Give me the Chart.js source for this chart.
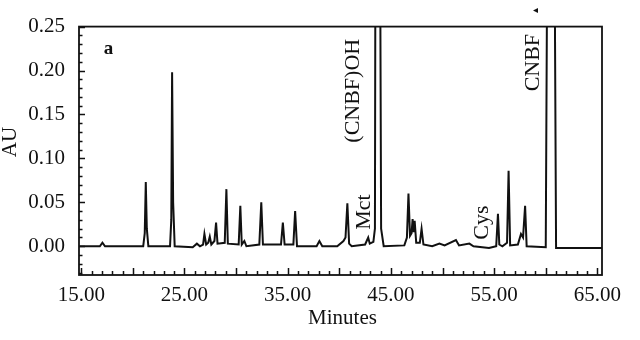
<!DOCTYPE html>
<html>
<head>
<meta charset="utf-8">
<script src="https://cdn.jsdelivr.net/npm/chart.js@4"></script>
<style>
  html, body { margin: 0; padding: 0; background: #fff; }
  #wrap { width: 640px; height: 340px; position: relative; }
</style>
</head>
<body>
<div id="wrap"><canvas id="chrom"></canvas></div>
<script>
// Chromatogram trace (minutes, AU)
const minutes = [
  14.8, 16.8, 17.05, 17.3,
  21.0, 21.15, 21.25, 21.35, 21.5,
  23.6, 23.72, 23.8, 23.9, 24.05,
  25.8, 26.2, 26.5, 26.8, 26.93, 27.1, 27.3, 27.45, 27.6, 27.9, 28.06, 28.2,
  28.9, 29.06, 29.2, 30.25, 30.41, 30.55, 30.8, 31.0,
  32.25, 32.44, 32.6, 34.35, 34.53, 34.7, 35.55, 35.72, 35.9,
  37.8, 38.07, 38.35, 39.8, 40.4, 40.6, 40.78, 40.95, 41.2,
  42.5, 42.8, 42.95, 43.3, 43.45, 43.5, 43.95, 44.05, 44.3,
  46.3, 46.55, 46.7, 46.85, 47.0, 47.1, 47.2, 47.3, 47.45, 47.8, 47.97, 48.15,
  49.0, 49.7, 50.2, 51.3, 51.6, 52.6, 53.0, 54.5,
  55.2, 55.37, 55.5, 55.8, 56.25, 56.4, 56.55,
  57.3, 57.6, 57.8, 58.0, 58.15,
  60.0, 60.15, 60.85, 61.0, 65.5
];
const absorbance = [
  0.000, 0.000, 0.004, 0.000,
  0.000, 0.015, 0.073, 0.020, 0.000,
  0.000, 0.030, 0.198, 0.050, 0.000,
  -0.001, 0.003, 0.000, 0.002, 0.014, 0.002, 0.004, 0.011, 0.002, 0.006, 0.027, 0.003,
  0.004, 0.065, 0.003, 0.002, 0.046, 0.002, 0.006, 0.000,
  0.002, 0.050, 0.002, 0.002, 0.027, 0.002, 0.002, 0.040, 0.000,
  0.000, 0.006, 0.000, 0.000, 0.006, 0.010, 0.049, 0.003, 0.000,
  0.002, 0.010, 0.003, 0.005, 0.020, 0.350, 0.350, 0.020, 0.000,
  0.001, 0.010, 0.060, 0.012, 0.015, 0.031, 0.016, 0.029, 0.004, 0.004, 0.020, 0.002,
  0.000, 0.003, 0.001, 0.007, 0.001, 0.003, 0.000, -0.002,
  0.000, 0.037, 0.002, 0.000, 0.004, 0.086, 0.001,
  0.002, 0.014, 0.010, 0.046, 0.000,
  -0.001, 0.350, 0.350, -0.002, -0.002
];

const xTickValues = [15, 25, 35, 45, 55, 65];
const yTickValues = [0, 0.05, 0.10, 0.15, 0.20, 0.25];

// peak names, placed in data space
const peakNames = ['(CNBF)OH', 'Mct', 'Cys', 'CNBF'];
const peakNameX = [41.3, 42.4, 53.8, 58.75];
const peakNameY = [0.177, 0.039, 0.027, 0.209];

const serif = "'Liberation Serif', 'Times New Roman', serif";

// frame, inward ticks, titles and peak names
const decor = {
  id: 'decor',
  afterDraw(chart) {
    const { ctx, chartArea: a, scales: { x, y } } = chart;
    ctx.save();
    ctx.strokeStyle = '#111';
    ctx.lineWidth = 1.8;
    ctx.strokeRect(a.left, a.top, a.right - a.left, a.bottom - a.top);

    ctx.lineWidth = 1.5;
    ctx.beginPath();
    for (let i = -3; i <= 25; i++) {
      const py = Math.round(y.getPixelForValue(i / 100)) + 0.5;
      const len = i % 5 === 0 ? 6 : 3.5;
      ctx.moveTo(a.left, py);
      ctx.lineTo(a.left + len, py);
    }
    for (let m = 15; m <= 65; m++) {
      const px = Math.round(x.getPixelForValue(m)) + 0.5;
      const len = m % 5 === 0 ? 7 : 4;
      ctx.moveTo(px, a.bottom);
      ctx.lineTo(px, a.bottom - len);
    }
    ctx.stroke();

    ctx.fillStyle = '#111';
    ctx.font = '21px ' + serif;
    ctx.textAlign = 'center';
    ctx.textBaseline = 'middle';
    ctx.fillText('Minutes', (a.left + a.right) / 2 + 2, 318);
    ctx.save();
    ctx.translate(10, 142);
    ctx.rotate(-Math.PI / 2);
    ctx.fillText('AU', 0, 0);
    ctx.restore();

    ctx.font = 'bold 19px ' + serif;
    ctx.fillText('a', x.getPixelForValue(17.65), y.getPixelForValue(0.224));

    ctx.font = '22px ' + serif;
    peakNames.forEach((name, i) => {
      ctx.save();
      ctx.translate(x.getPixelForValue(peakNameX[i]), y.getPixelForValue(peakNameY[i]));
      ctx.rotate(-Math.PI / 2);
      ctx.fillText(name, 0, 0);
      ctx.restore();
    });

    ctx.font = '10px ' + serif;
    ctx.fillText('◂', x.getPixelForValue(59.0), 10);
    ctx.restore();
  }
};

new Chart(document.getElementById('chrom'), {
  type: 'line',
  data: {
    datasets: [{
      data: minutes.map((t, i) => ({ x: t, y: absorbance[i] })),
      borderColor: '#111',
      borderWidth: 2,
      pointRadius: 0,
      tension: 0,
      fill: false
    }]
  },
  options: {
    responsive: true,
    maintainAspectRatio: false,
    animation: false,
    layout: { padding: { left: 0, top: 24, right: 38, bottom: 0 } },
    plugins: {
      legend: { display: false },
      tooltip: { enabled: false }
    },
    scales: {
      x: {
        type: 'linear',
        min: 14.78,
        max: 65.45,
        grid: { display: false, drawTicks: false },
        border: { display: false },
        afterBuildTicks: s => { s.ticks = xTickValues.map(v => ({ value: v })); },
        afterFit: s => { s.height = 65; },
        ticks: {
          padding: 8,
          maxRotation: 0,
          color: '#111',
          font: { family: serif, size: 21 },
          callback: v => v.toFixed(2)
        }
      },
      y: {
        min: -0.0327,
        max: 0.25,
        grid: { display: false, drawTicks: false },
        border: { display: false },
        afterBuildTicks: s => { s.ticks = yTickValues.map(v => ({ value: v })); },
        afterFit: s => { s.width = 79; },
        ticks: {
          padding: 14,
          color: '#111',
          font: { family: serif, size: 21 },
          callback: v => v.toFixed(2)
        }
      }
    }
  },
  plugins: [decor]
});
</script>
</body>
</html>
